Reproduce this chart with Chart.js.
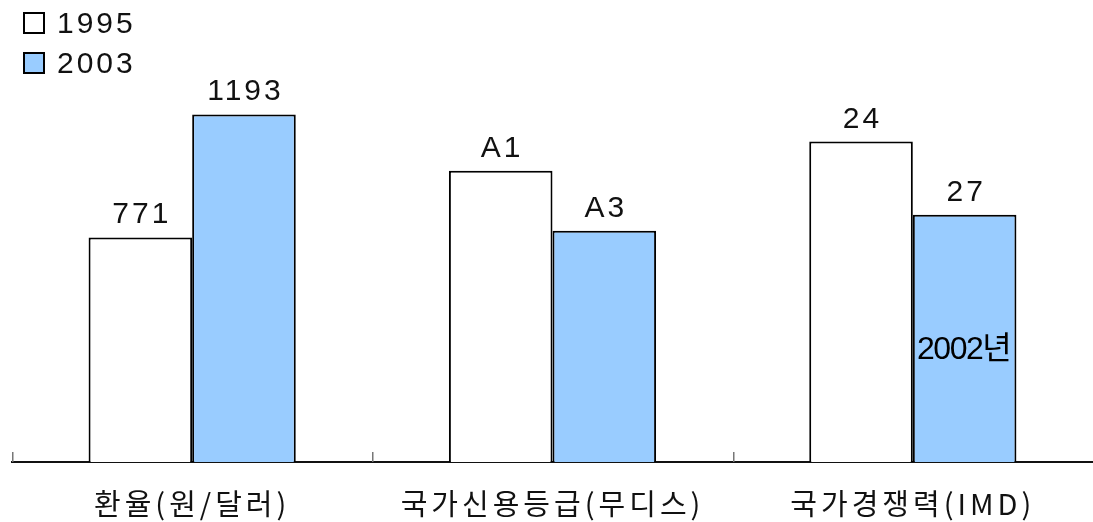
<!DOCTYPE html>
<html>
<head>
<meta charset="utf-8">
<script src="https://cdn.jsdelivr.net/npm/chart.js@4.4.1/dist/chart.umd.min.js"></script>
<style>
  html, body { margin: 0; padding: 0; background: #fff; }
  #wrap { position: relative; width: 1093px; height: 522px; }
  #legend { position: absolute; left: 23px; top: 0; font-family: "Liberation Sans", Arial, sans-serif; font-size: 30px; color: #111; letter-spacing: 3px; }
  .row { position: absolute; left: 0; white-space: nowrap; height: 30px; line-height: 30px; }
  .box { position: absolute; left: 0; top: 4px; width: 18px; height: 18px; border: 2px solid #000; box-sizing: content-box; }
  .lbl { position: absolute; left: 34px; top: 0; }
</style>
</head>
<body>
<div id="wrap">
  <canvas id="c" width="1093" height="522"></canvas>
  <div id="legend"></div>
</div>
<script>
// Categories
const categories = ['환율(원/달러)', '국가신용등급(무디스)', '국가경쟁력(IMD)'];
const seriesNames = ['1995', '2003'];
// Bar heights as drawn (in won-equivalent units of the exchange-rate bar)
const values1995 = [771, 1000, 1100];
const values2003 = [1193, 794, 849];
// Value labels shown above bars
const labels1995 = ['771', 'A1', '24'];
const labels2003 = ['1193', 'A3', '27'];
// Note inside bar
const notes2003 = ['', '', '2002년'];
const colors = ['#FFFFFF', '#99CCFF'];

// HTML legend
const legend = document.getElementById('legend');
seriesNames.forEach((n, i) => {
  const r = document.createElement('div');
  r.className = 'row';
  r.style.top = (8 + i * 40) + 'px';
  r.innerHTML = '<span class="box" style="background:' + colors[i] + '"></span><span class="lbl">' + n + '</span>';
  legend.appendChild(r);
});

const valueLabels = [labels1995, labels2003];
const notes = [null, notes2003];

const decorPlugin = {
  id: 'decor',
  beforeDraw(chart) {
    chart.ctx.letterSpacing = '4px';
  },
  beforeDatasetsDraw(chart) {
    chart.ctx.letterSpacing = '0px';
    const x = chart.scales.x;
    const ctx = chart.ctx;
    const base = chart.chartArea.bottom;
    const step = x.getPixelForValue(1) - x.getPixelForValue(0);
    ctx.save();
    ctx.strokeStyle = '#777';
    ctx.lineWidth = 1.5;
    for (let i = 0; i <= categories.length; i++) {
      let px = x.getPixelForValue(0) + (i - 0.5) * step;
      px = Math.round(px) + 0.75;
      ctx.beginPath();
      ctx.moveTo(px, base - 10);
      ctx.lineTo(px, base);
      ctx.stroke();
    }
    ctx.restore();
  },
  afterDatasetsDraw(chart) {
    const ctx = chart.ctx;
    ctx.save();
    chart.data.datasets.forEach((ds, di) => {
      const meta = chart.getDatasetMeta(di);
      meta.data.forEach((bar, i) => {
        ctx.letterSpacing = '3px';
        ctx.font = '30px "Liberation Sans", Arial, sans-serif';
        ctx.fillStyle = '#111';
        ctx.textAlign = 'center';
        ctx.textBaseline = 'alphabetic';
        ctx.fillText(valueLabels[di][i], bar.x + 1.5, bar.y - 14);
        if (notes[di] && notes[di][i]) {
          ctx.letterSpacing = '-1.5px';
          ctx.font = '32px "Liberation Sans", Arial, "Noto Sans CJK KR", sans-serif';
          ctx.fillStyle = '#000';
          ctx.fillText(notes[di][i], bar.x - 1, 359);
        }
      });
    });
    ctx.restore();
  }
};

new Chart(document.getElementById('c'), {
  type: 'bar',
  data: {
    labels: categories,
    datasets: [
      { label: seriesNames[0], data: values1995, backgroundColor: colors[0], borderColor: '#000', borderWidth: 2 },
      { label: seriesNames[1], data: values2003, backgroundColor: colors[1], borderColor: '#000', borderWidth: 2 }
    ]
  },
  options: {
    responsive: false,
    animation: false,
    events: [],
    layout: { padding: { top: 60, left: 12, right: 0, bottom: 0 } },
    datasets: { bar: { categoryPercentage: 0.575, barPercentage: 1.0 } },
    plugins: { legend: { display: false }, tooltip: { enabled: false } },
    scales: {
      x: {
        grid: { display: false, drawTicks: false },
        border: { display: true, color: '#111', width: 2 },
        ticks: {
          color: '#111',
          font: { family: '"Noto Sans CJK KR", sans-serif', size: 29 },
          padding: 25,
          maxRotation: 0,
          autoSkip: false
        },
        afterFit(scale) { scale.height = 60; }
      },
      y: {
        display: false,
        min: 0,
        max: 1380
      }
    }
  },
  plugins: [decorPlugin]
});
</script>
</body>
</html>
